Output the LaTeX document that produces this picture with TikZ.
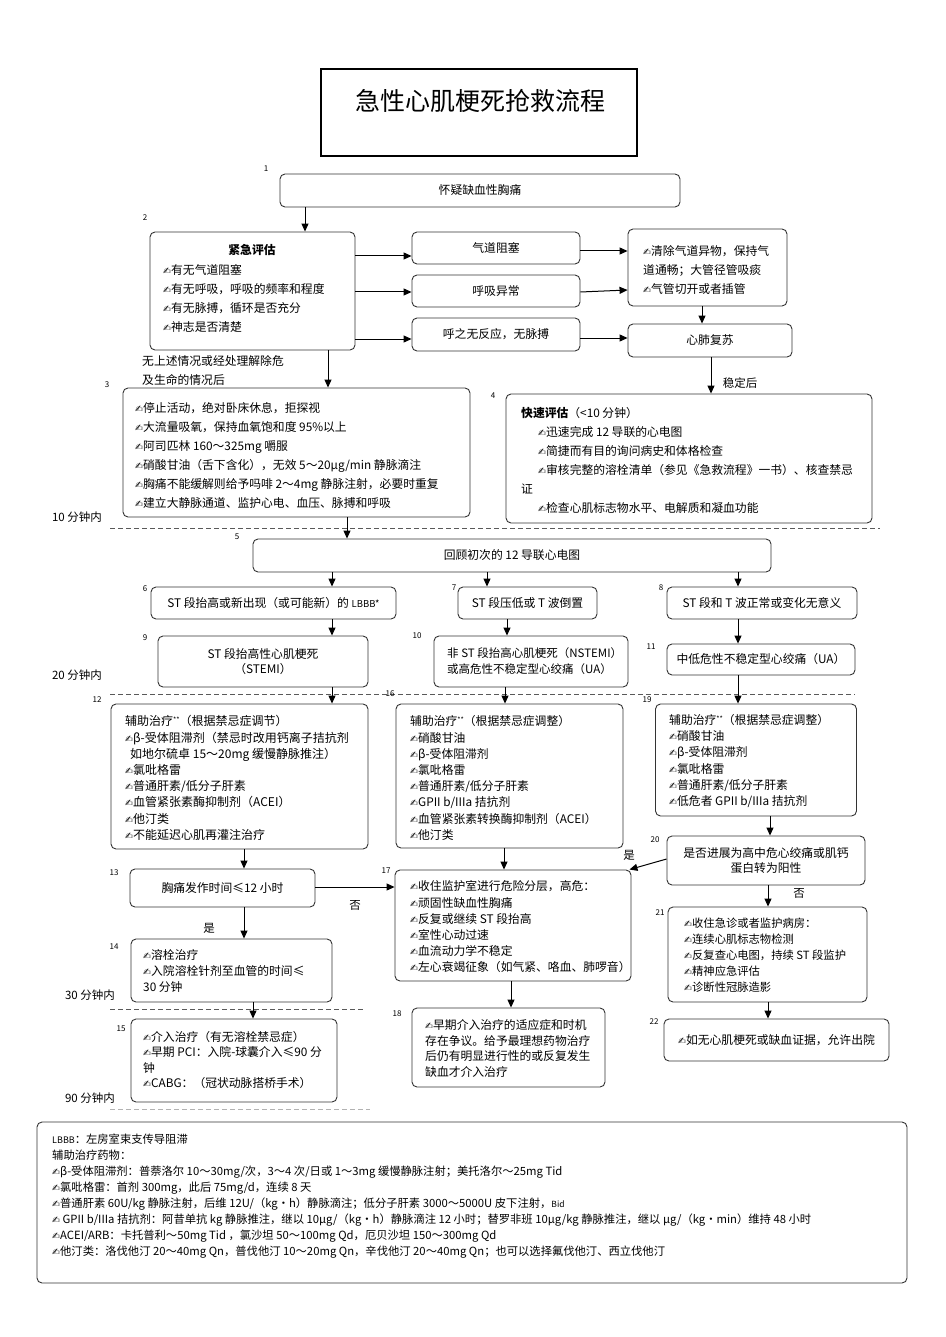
\documentclass[tikz,border=0pt]{standalone}
\usepackage{fontspec}
\setmainfont{Noto Sans CJK SC}
\newfontfamily\dv{DejaVu Sans}
\newcommand\pen{{\dv\fontsize{9.5}{9}\selectfont ✍}}
\newcommand\sstar{{\fontsize{7}{7}\selectfont\raisebox{3pt}{**}}}
\usetikzlibrary{arrows.meta}
\begin{document}
\begin{tikzpicture}[x=1pt,y=-1pt,
  box/.style={draw=black!80, line width=0.9pt, rounded corners=5pt, inner sep=0pt, align=center, font=\fontsize{11.8}{15.5}\selectfont},
  txt/.style={font=\fontsize{11.8}{19}\selectfont, inner sep=0pt, align=left},
  txs/.style={font=\fontsize{11.8}{16.2}\selectfont, inner sep=0pt, align=left},
  lab/.style={font=\fontsize{11.5}{13}\selectfont, inner sep=0pt},
  num/.style={font=\fontsize{8}{8}\selectfont, inner sep=0pt},
  arr/.style={-{Triangle[length=8pt,width=7pt]}, line width=1pt},
  sep/.style={dash pattern=on 5pt off 3pt, draw=black!65, line width=0.8pt}]
\path[use as bounding box] (0,0) rectangle (945,1337);

% guide coordinates
\foreach \n/\v in {305/305,328/328,347/347,332/332,487/487,507/507,505/505,504/504,511/511,738/738,244/244,253/253,702/702,711/711,770/770,768/768}
  \coordinate (x\n) at (\v,0);
\foreach \n/\v in {256/256,292/292,339/339,251/251,290/290,338/338,887/887,859/859}
  \coordinate (y\n) at (0,\v);

% title
\node[draw=black, line width=1.3pt, minimum width=316pt, minimum height=87pt, inner sep=0pt] (title) at (479,112.5) {};
\node[inner sep=0pt, font=\fontsize{25}{25}\selectfont] (titletext) at (480,101) {急性心肌梗死抢救流程};

% row 1-2
\node[num] (n1) at (266,169) {1};
\node[box, minimum width=400pt, minimum height=33pt] (b1) at (480,190.5) {怀疑缺血性胸痛};
\node[num] (n2) at (145,218) {2};
\node[box, minimum width=205pt, minimum height=118pt] (b2) at (252.5,291) {};
\node[txt, font=\fontsize{11.8}{19}\selectfont\bfseries] (t2h) at (252,250) {紧急评估};
\node[txt, anchor=west] (t2) at (163,298.5) {\pen 有无气道阻塞\\\pen 有无呼吸，呼吸的频率和程度\\\pen 有无脉搏，循环是否充分\\\pen 神志是否清楚};
\node[box, minimum width=168pt, minimum height=32pt] (air) at (496,248) {气道阻塞};
\node[box, minimum width=168pt, minimum height=32pt] (breath) at (496,291) {呼吸异常};
\node[box, minimum width=168pt, minimum height=33pt] (noresp) at (496,334.5) {呼之无反应，无脉搏};
\node[box, minimum width=159pt, minimum height=77pt] (clear) at (707.5,267.5) {};
\node[txt, anchor=west] (tclear) at (643,269.5) {\pen 清除气道异物，保持气\\道通畅；大管径管吸痰\\\pen 气管切开或者插管};
\node[box, minimum width=164pt, minimum height=33pt] (cpr) at (710,340.5) {心肺复苏};

\node[txt, anchor=west] (tno) at (142,370.5) {无上述情况或经处理解除危\\及生命的情况后};
\node[lab] (tstable) at (740,383) {稳定后};

% row 3-4
\node[num] (n3) at (107,385) {3};
\node[box, minimum width=347pt, minimum height=129pt] (b3) at (296.5,452.5) {};
\node[txt, anchor=west] (t3) at (135,455.5) {\pen 停止活动，绝对卧床休息，拒探视\\
\pen 大流量吸氧，保持血氧饱和度 95\%以上\\
\pen 阿司匹林 160～325mg 嚼服\\
\pen 硝酸甘油（舌下含化），无效 5～20μg/min 静脉滴注\\
\pen 胸痛不能缓解则给予吗啡 2～4mg 静脉注射，必要时重复\\
\pen 建立大静脉通道、监护心电、血压、脉搏和呼吸};
\node[num] (n4) at (493,396) {4};
\node[box, minimum width=366pt, minimum height=129pt] (b4) at (689,458.5) {};
\node[txt, anchor=west] (t4) at (521,460.5) {{\bfseries 快速评估}（<10 分钟）\\
\hspace*{17pt}\pen 迅速完成 12 导联的心电图\\
\hspace*{17pt}\pen 简捷而有目的询问病史和体格检查\\
\hspace*{17pt}\pen 审核完整的溶栓清单（参见《急救流程》一书）、核查禁忌\\
证\\
\hspace*{17pt}\pen 检查心肌标志物水平、电解质和凝血功能};

\node[lab] (m10) at (77,517) {10 分钟内};
\draw[sep] (110,528) -- (880,528);

% row 5
\node[num] (n5) at (237,537) {5};
\node[box, minimum width=518pt, minimum height=33pt] (b5) at (512,555.5) {回顾初次的 12 导联心电图};

% row 6-8
\node[num] (n6) at (145,589) {6};
\node[box, minimum width=245pt, minimum height=32pt] (b6) at (273.5,603) {ST 段抬高或新出现（或可能新）的 {\fontsize{9.5}{9}\selectfont LBBB*}};
\node[num] (n7) at (454,588) {7};
\node[box, minimum width=139pt, minimum height=32pt] (b7) at (527.5,603) {ST 段压低或 T 波倒置};
\node[num] (n8) at (661,588) {8};
\node[box, minimum width=190pt, minimum height=32pt] (b8) at (762,603) {ST 段和 T 波正常或变化无意义};

% row 9-11
\node[num] (n9) at (145,638) {9};
\node[box, minimum width=210pt, minimum height=51pt] (b9) at (263,661.5) {ST 段抬高性心肌梗死\\（STEMI）};
\node[num] (n10) at (417,636) {10};
\node[box, minimum width=194pt, minimum height=51pt] (b10) at (531,661.5) {};
\node[txt, anchor=west, font=\fontsize{11.5}{16}\selectfont] (t10) at (447,661) {非 ST 段抬高心肌梗死（NSTEMI）\\或高危性不稳定型心绞痛（UA）};
\node[num] (n11) at (651,647) {11};
\node[box, minimum width=188pt, minimum height=31pt] (b11) at (761,659.5) {中低危性不稳定型心绞痛（UA）};

\node[lab] (m20) at (77,675) {20 分钟内};
\draw[sep] (110,694) -- (855,694);

% row 12,16,19
\node[num] (n12) at (97,700) {12};
\node[box, minimum width=257pt, minimum height=145pt] (b12) at (239.5,776.5) {};
\node[txs, anchor=west, font=\fontsize{12}{16.2}\selectfont] (t12) at (125,778) {辅助治疗\sstar（根据禁忌症调节）\\
\pen β-受体阻滞剂（禁忌时改用钙离子拮抗剂\\
\hspace*{5pt}如地尔硫卓 15～20mg 缓慢静脉推注）\\
\pen 氯吡格雷\\
\pen 普通肝素/低分子肝素\\
\pen 血管紧张素酶抑制剂（ACEI）\\
\pen 他汀类\\
\pen 不能延迟心肌再灌注治疗};
\node[num] (n16) at (390,694) {16};
\node[box, minimum width=227pt, minimum height=144pt] (b16) at (509.5,776) {};
\node[txs, anchor=west] (t16) at (410,778) {辅助治疗\sstar（根据禁忌症调整）\\
\pen 硝酸甘油\\
\pen β-受体阻滞剂\\
\pen 氯吡格雷\\
\pen 普通肝素/低分子肝素\\
\pen GPII b/IIIa 拮抗剂\\
\pen 血管紧张素转换酶抑制剂（ACEI）\\
\pen 他汀类};
\node[num] (n19) at (647,700) {19};
\node[box, minimum width=201pt, minimum height=112pt] (b19) at (756,760) {};
\node[txs, anchor=west] (t19) at (669,761) {辅助治疗\sstar（根据禁忌症调整）\\
\pen 硝酸甘油\\
\pen β-受体阻滞剂\\
\pen 氯吡格雷\\
\pen 普通肝素/低分子肝素\\
\pen 低危者 GPII b/IIIa 拮抗剂};

% row 13,17,20
\node[num] (n13) at (114,873) {13};
\node[box, minimum width=185pt, minimum height=38pt] (b13) at (222.5,888) {胸痛发作时间≤12 小时};
\node[num] (n17) at (386,871) {17};
\node[box, minimum width=236pt, minimum height=111pt] (b17) at (513,925.5) {};
\node[txs, anchor=west] (t17) at (410,927) {\pen 收住监护室进行危险分层，高危：\\
\pen 顽固性缺血性胸痛\\
\pen 反复或继续 ST 段抬高\\
\pen 室性心动过速\\
\pen 血流动力学不稳定\\
\pen 左心衰竭征象（如气紧、咯血、肺啰音）};
\node[num] (n20) at (655,840) {20};
\node[box, minimum width=198pt, minimum height=49pt] (b20) at (766,860.5) {是否进展为高中危心绞痛或肌钙\\蛋白转为阳性};

\node[lab] (tno13) at (355,905) {否};
\node[lab] (tyes13) at (209,928) {是};
\node[lab] (tyes20) at (629,855) {是};
\node[lab] (tno20) at (799,893) {否};

% row 14,15,18,21,22
\node[num] (n14) at (114,947) {14};
\node[box, minimum width=201pt, minimum height=63pt] (b14) at (231.5,970.5) {};
\node[txs, anchor=west, font=\fontsize{11.8}{16}\selectfont] (t14) at (143,971) {\pen 溶栓治疗\\\pen 入院溶栓针剂至血管的时间≤\\30 分钟};
\node[lab] (m30) at (90,995) {30 分钟内};
\draw[sep] (110,1009) -- (365,1009);
\node[num] (n15) at (121,1029) {15};
\node[box, minimum width=206pt, minimum height=83pt] (b15) at (234,1060.5) {};
\node[txs, anchor=west, font=\fontsize{11.8}{15.5}\selectfont] (t15) at (143,1060) {\pen 介入治疗（有无溶栓禁忌症）\\\pen 早期 PCI：入院-球囊介入≤90 分\\钟\\\pen CABG：（冠状动脉搭桥手术）};
\node[lab] (m90) at (90,1098) {90 分钟内};
\draw[sep, draw=black!30] (110,1109) -- (370,1109);
\node[num] (n18) at (397,1014) {18};
\node[box, minimum width=193pt, minimum height=79pt] (b18) at (508.5,1047.5) {};
\node[txs, anchor=west, font=\fontsize{11.8}{15.7}\selectfont] (t18) at (425,1048.5) {\pen 早期介入治疗的适应症和时机\\存在争议。给予最理想药物治疗\\后仍有明显进行性的或反复发生\\缺血才介入治疗};
\node[num] (n21) at (660,913) {21};
\node[box, minimum width=199pt, minimum height=95pt] (b21) at (767.5,954.5) {};
\node[txs, anchor=west, font=\fontsize{11.3}{16}\selectfont] (t21) at (684,955) {\pen 收住急诊或者监护病房：\\
\pen 连续心肌标志物检测\\
\pen 反复查心电图，持续 ST 段监护\\
\pen 精神应急评估\\
\pen 诊断性冠脉造影};
\node[num] (n22) at (654,1022) {22};
\node[box, minimum width=225pt, minimum height=42pt] (b22) at (776.5,1040) {\pen 如无心肌梗死或缺血证据，允许出院};

% footer
\node[box, minimum width=870pt, minimum height=161pt] (foot) at (472,1202.5) {};
\node[txt, anchor=west, font=\fontsize{11.3}{16}\selectfont] (tfoot) at (52,1196) {{\fontsize{9}{9}\selectfont LBBB}：左房室束支传导阻滞\\
辅助治疗药物：\\
\pen β-受体阻滞剂：普萘洛尔 10～30mg/次，3～4 次/日或 1～3mg 缓慢静脉注射；美托洛尔～25mg Tid\\
\pen 氯吡格雷：首剂 300mg，此后 75mg/d，连续 8 天\\
\pen 普通肝素 60U/kg 静脉注射，后维 12U/（kg・h）静脉滴注；低分子肝素 3000～5000U 皮下注射，{\fontsize{8.5}{8}\selectfont Bid}\\
\pen\ GPII b/IIIa 拮抗剂：阿昔单抗 kg 静脉推注，继以 10μg/（kg・h）静脉滴注 12 小时；替罗非班 10μg/kg 静脉推注，继以 μg/（kg・min）维持 48 小时\\
\pen ACEI/ARB：卡托普利～50mg Tid ，氯沙坦 50～100mg Qd，厄贝沙坦 150～300mg Qd\\
\pen 他汀类：洛伐他汀 20～40mg Qn，普伐他汀 10～20mg Qn，辛伐他汀 20～40mg Qn；也可以选择氟伐他汀、西立伐他汀};

% connectors
\draw[arr] (b1.south -| x305) -- (b2.north -| x305);
\draw[arr] (b2.east |- y256) -- (air.west |- y256);
\draw[arr] (b2.east |- y292) -- (breath.west |- y292);
\draw[arr] (b2.east |- y339) -- (noresp.west |- y339);
\draw[arr] (air.east |- y251) -- (clear.west |- y251);
\draw[arr] (breath.east |- y292) -- (clear.west |- y290);
\draw[arr] (noresp.east |- y338) -- (cpr.west |- y338);
\draw[arr] (clear.south -| x702) -- (cpr.north -| x702);
\draw[arr] (cpr.south -| x711) -- (b4.north -| x711);
\draw[arr] (b2.south -| x328) -- (b3.north -| x328);
\draw[arr] (b3.south -| x347) -- (b5.north -| x347);
\draw[arr] (b5.south -| x332) -- (b6.north -| x332);
\draw[arr] (b5.south -| x487) -- (b7.north -| x487);
\draw[arr] (b5.south -| x738) -- (b8.north -| x738);
\draw[arr] (b6.south -| x332) -- (b9.north -| x332);
\draw[arr] (b7.south -| x507) -- (b10.north -| x507);
\draw[arr] (b8.south -| x738) -- (b11.north -| x738);
\draw[arr] (b9.south -| x332) -- (b12.north -| x332);
\draw[arr] (b10.south -| x505) -- (b16.north -| x505);
\draw[arr] (b11.south -| x738) -- (b19.north -| x738);
\draw[arr] (b12.south -| x244) -- (b13.north -| x244);
\draw[arr] (b13.south -| x244) -- (b14.north -| x244);
\draw[arr] (b14.south -| x253) -- (b15.north -| x253);
\draw[arr] (b13.east |- y887) -- (b17.west |- y887);
\draw[arr] (b16.south -| x504) -- (b17.north -| x504);
\draw[arr] (b17.south -| x511) -- (b18.north -| x511);
\draw[arr] (b19.south -| x770) -- (b20.north -| x770);
\draw[arr] (b20.west |- y859) -- ([xshift=-2pt]b17.north east);
\draw[arr] (b20.south -| x768) -- (b21.north -| x768);
\draw[arr] (b21.south -| x768) -- (b22.north -| x768);
\end{tikzpicture}
\end{document}
